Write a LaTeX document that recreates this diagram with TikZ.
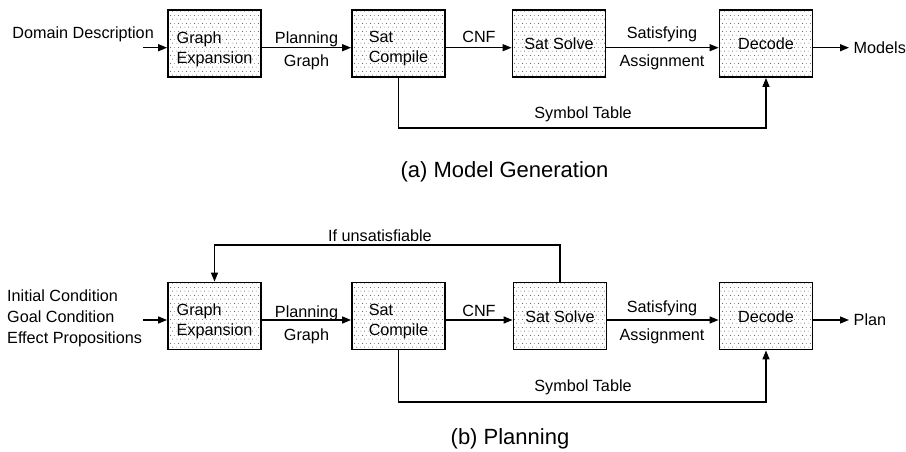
\documentclass[tikz,border=0pt]{standalone}
\usepackage{fontspec}
\setmainfont{Liberation Sans}
\usetikzlibrary{arrows.meta,patterns}

% staggered stipple used to shade the processing stages
\pgfdeclarepatternformonly{stipple}{\pgfpointorigin}{\pgfqpoint{8pt}{8pt}}{\pgfqpoint{8pt}{8pt}}{%
  \pgfpathcircle{\pgfqpoint{1pt}{1pt}}{0.5pt}%
  \pgfpathcircle{\pgfqpoint{5pt}{1pt}}{0.5pt}%
  \pgfpathcircle{\pgfqpoint{3pt}{5pt}}{0.5pt}%
  \pgfpathcircle{\pgfqpoint{7pt}{5pt}}{0.5pt}%
  \pgfusepath{fill}}

\newcommand\lblfont{\fontsize{16.2}{20}\selectfont}
\newcommand\capfont{\fontsize{22}{26}\selectfont}

\begin{document}
\begin{tikzpicture}[x=1pt,y=-1pt,
  stage/.style={draw, line width=1.8pt, pattern=stipple, pattern color=black!70,
    minimum width=93pt, minimum height=67pt, inner sep=0pt},
  stagetext/.style={align=left, inner sep=0pt, font=\lblfont},
  lbl/.style={inner sep=0pt, font=\lblfont},
  caption/.style={inner sep=0pt, font=\capfont},
  flow/.style={line width=1.3pt, -{Triangle[length=9pt,width=7pt]}},
]
\useasboundingbox (0,0) rectangle (906,452);

% ---------------- (a) model generation ----------------
\node[stage] (ge) at (214.5,43.5) {};
\node[stage] (sc) at (398.5,43.5) {};
\node[stage] (ss) at (559,43.5) {};
\node[stage] (dc) at (766,43.5) {};

\node[stagetext] (getxt) at ([yshift=-5.5pt]ge.center) {Graph\\Expansion};
\node[stagetext] (sctxt) at ([yshift=-5.5pt]sc.center) {Sat\\Compile};
\node[stagetext] (sstxt) at ([yshift=-0.5pt]ss.center) {Sat Solve};
\node[stagetext] (dctxt) at ([yshift=-0.5pt]dc.center) {Decode};

\coordinate (ina) at (143,47.7);
\coordinate (outa) at (849,47.7);
\node[lbl, anchor=base east] (domain) at (154,39) {Domain Description};
\node[lbl, anchor=west] (models) at (853.5,47.7) {Models};

\draw[flow] (ina) -- ([yshift=-4.2pt]ge.west);
\draw[flow] ([yshift=-4.2pt]ge.east) -- ([yshift=-4.2pt]sc.west);
\draw[flow] ([yshift=-4.2pt]sc.east) -- ([yshift=-4.2pt]ss.west);
\draw[flow] ([yshift=-4.2pt]ss.east) -- ([yshift=-4.2pt]dc.west);
\draw[flow] ([yshift=-4.2pt]dc.east) -- (outa);
\draw[flow] (sc.south) -- ++(0,50) -| (dc.south);

\node[lbl, anchor=base] (pga1) at (306.5,44) {Planning};
\node[lbl, anchor=base] (pga2) at (306.5,67) {Graph};
\node[lbl, anchor=base] (cnfa) at (479,43) {CNF};
\node[lbl, anchor=base] (saa1) at (662,39) {Satisfying};
\node[lbl, anchor=base] (saa2) at (662,67) {Assignment};
\node[lbl, anchor=base] (syma) at (583,118) {Symbol Table};

\node[caption, anchor=base] (capa) at (504.5,177) {(a) Model Generation};

% ---------------- (b) planning ----------------
\node[stage] (ge2) at (214.5,316) {};
\node[stage] (sc2) at (398.5,316) {};
\node[stage] (ss2) at (560,316) {};
\node[stage] (dc2) at (766,316) {};

\node[stagetext] (getxt2) at ([yshift=-5.5pt]ge2.center) {Graph\\Expansion};
\node[stagetext] (sctxt2) at ([yshift=-5.5pt]sc2.center) {Sat\\Compile};
\node[stagetext] (sstxt2) at ([yshift=-0.5pt]ss2.center) {Sat Solve};
\node[stagetext] (dctxt2) at ([yshift=-0.5pt]dc2.center) {Decode};

\coordinate (inb) at (143,320);
\coordinate (outb) at (849,320);
\node[lbl, align=left, anchor=west, font=\fontsize{16.2}{21}\selectfont] (inputs) at (7,318.5)
  {Initial Condition\\Goal Condition\\Effect Propositions};
\node[lbl, anchor=west] (plan) at (853.5,320) {Plan};

\draw[flow] (inb) -- ([yshift=-4pt]ge2.west);
\draw[flow] ([yshift=-4pt]ge2.east) -- ([yshift=-4pt]sc2.west);
\draw[flow] ([yshift=-4pt]sc2.east) -- ([yshift=-4pt]ss2.west);
\draw[flow] ([yshift=-4pt]ss2.east) -- ([yshift=-4pt]dc2.west);
\draw[flow] ([yshift=-4pt]dc2.east) -- (outb);
\draw[flow] (sc2.south) -- ++(0,51.5) -| (dc2.south);
\draw[flow] (ss2.north) -- ++(0,-36.5) -| (ge2.north);

\node[lbl, anchor=base] (unsat) at (380,241) {If unsatisfiable};
\node[lbl, anchor=base] (pgb1) at (306.5,317) {Planning};
\node[lbl, anchor=base] (pgb2) at (306.5,340) {Graph};
\node[lbl, anchor=base] (cnfb) at (479,316) {CNF};
\node[lbl, anchor=base] (sab1) at (662,312) {Satisfying};
\node[lbl, anchor=base] (sab2) at (662,340) {Assignment};
\node[lbl, anchor=base] (symb) at (583,391) {Symbol Table};

\node[caption, anchor=base] (capb) at (510,444) {(b) Planning};
\end{tikzpicture}
\end{document}
